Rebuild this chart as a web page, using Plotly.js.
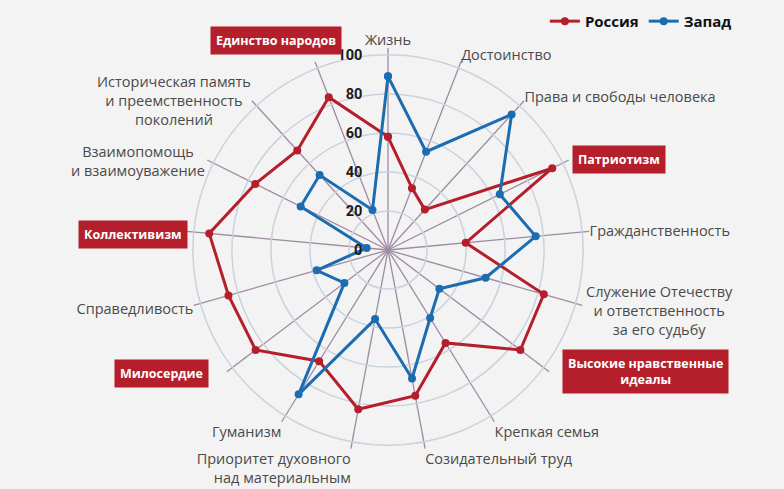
<!DOCTYPE html>
<html>
<head>
<meta charset="utf-8">
<script src="https://cdn.plot.ly/plotly-3.0.1.min.js"></script>
<style>
  html, body { margin: 0; padding: 0; background: #f3f3f3; }
  #chart { width: 784px; height: 489px; }
</style>
</head>
<body>
<div id="chart"></div>
<script>
const categories = [
  'Жизнь',
  'Достоинство',
  'Права и свободы человека',
  'Патриотизм',
  'Гражданственность',
  'Служение Отечеству и ответственность за его судьбу',
  'Высокие нравственные идеалы',
  'Крепкая семья',
  'Созидательный труд',
  'Приоритет духовного над материальным',
  'Гуманизм',
  'Милосердие',
  'Справедливость',
  'Коллективизм',
  'Взаимопомощь и взаимоуважение',
  'Историческая память и преемственность поколений',
  'Единство народов'
]

// labels drawn by the angular axis ('' = drawn as an annotation below)
const tickLabels = [
  'Жизнь',
  'Достоинство',
  'Права и свободы человека',
  '',
  'Гражданственность',
  '',
  '',
  'Крепкая семья',
  'Созидательный труд',
  'Приоритет духовного<br>над материальным',
  'Гуманизм',
  '',
  'Справедливость',
  '',
  '',
  '',
  ''
]

const russia = [58, 34, 28, 94, 40, 83, 85, 56, 76, 83, 67, 85, 85, 92, 76, 69, 84]
const west = [89, 54, 94, 64, 76, 52, 33, 41, 67, 36, 87, 28, 38, 11, 50, 52, 22]

const radialTicks = [0, 20, 40, 60, 80, 100]

// highlighted values drawn as red boxes
const highlighted = [
  { text: 'Единство народов', x: 276, y: 40 },
  { text: 'Патриотизм', x: 619, y: 159 },
  { text: 'Коллективизм', x: 133, y: 234 },
  { text: 'Милосердие', x: 161, y: 373 },
  { text: 'Высокие нравственные<br>идеалы', x: 645, y: 371 }
]

// multi-line plain labels, centred like in the original
const plainLabels = [
  { text: 'Историческая память<br>и преемственность<br>поколений', x: 174, y: 100 },
  { text: 'Взаимопомощь<br>и взаимоуважение', x: 138, y: 161 },
  { text: 'Служение Отечеству<br>и ответственность<br>за его судьбу', x: 659, y: 310 }
]

const W = 784
const H = 489
const red = '#b41f2b'
const blue = '#1c6cb2'

function closed(arr) {
  return arr.concat([arr[0]])
}

function series(name, values, color) {
  return {
    type: 'scatterpolar',
    mode: 'lines+markers',
    name: name,
    r: closed(values),
    theta: closed(categories),
    line: { color: color, width: 3 },
    marker: { color: color, size: 8 },
    cliponaxis: false
  }
}

const data = [
  series('Россия', russia, red),
  series('Запад', west, blue)
]

const boxNotes = highlighted.map(h => ({
  xref: 'paper',
  yref: 'paper',
  x: h.x / W,
  y: 1 - h.y / H,
  xanchor: 'center',
  yanchor: 'middle',
  text: '<b>' + h.text + '</b>',
  showarrow: false,
  bgcolor: red,
  borderpad: 5,
  font: { family: 'Open Sans', size: 12.5, color: '#ffffff' }
}))

const plainNotes = plainLabels.map(p => ({
  xref: 'paper',
  yref: 'paper',
  x: p.x / W,
  y: 1 - p.y / H,
  xanchor: 'center',
  yanchor: 'middle',
  align: 'center',
  text: p.text,
  showarrow: false,
  font: { family: 'Open Sans', size: 14.5, color: '#4a4a4a' }
}))

const layout = {
  width: W,
  height: H,
  autosize: false,
  margin: { l: 0, r: 0, t: 0, b: 0 },
  paper_bgcolor: '#f3f3f3',
  font: { family: 'Open Sans', size: 14.5, color: '#4a4a4a' },
  showlegend: true,
  legend: {
    orientation: 'h',
    x: 0.695,
    y: 0.99,
    xanchor: 'left',
    yanchor: 'top',
    itemwidth: 30,
    font: { family: 'Open Sans', size: 15, color: '#111111', weight: 'bold' },
    bgcolor: 'rgba(0,0,0,0)'
  },
  polar: {
    domain: { x: [0.2372, 0.7526], y: [0.0757, 0.9018] },
    bgcolor: '#f3f3f3',
    radialaxis: {
      range: [0, 103.5],
      tickvals: radialTicks,
      ticktext: radialTicks.map(String),
      angle: 90,
      side: 'counterclockwise',
      tickangle: 90,
      ticks: 'outside',
      ticklen: 20,
      tickcolor: 'rgba(0,0,0,0)',
      showline: false,
      gridcolor: '#c9d2de',
      gridwidth: 1.5,
      tickfont: { family: 'Roboto', size: 14.5, color: '#1a1a1a', weight: 'bold' }
    },
    angularaxis: {
      type: 'category',
      categoryarray: categories,
      tickvals: categories,
      ticktext: tickLabels,
      direction: 'clockwise',
      rotation: 90,
      showline: false,
      ticks: '',
      gridcolor: '#9f8aa3',
      gridwidth: 1.3,
      tickfont: { family: 'Open Sans', size: 14.5, color: '#4a4a4a' }
    }
  },
  annotations: boxNotes.concat(plainNotes)
}

Plotly.newPlot('chart', data, layout, { staticPlot: true, displayModeBar: false })
</script>
</body>
</html>
